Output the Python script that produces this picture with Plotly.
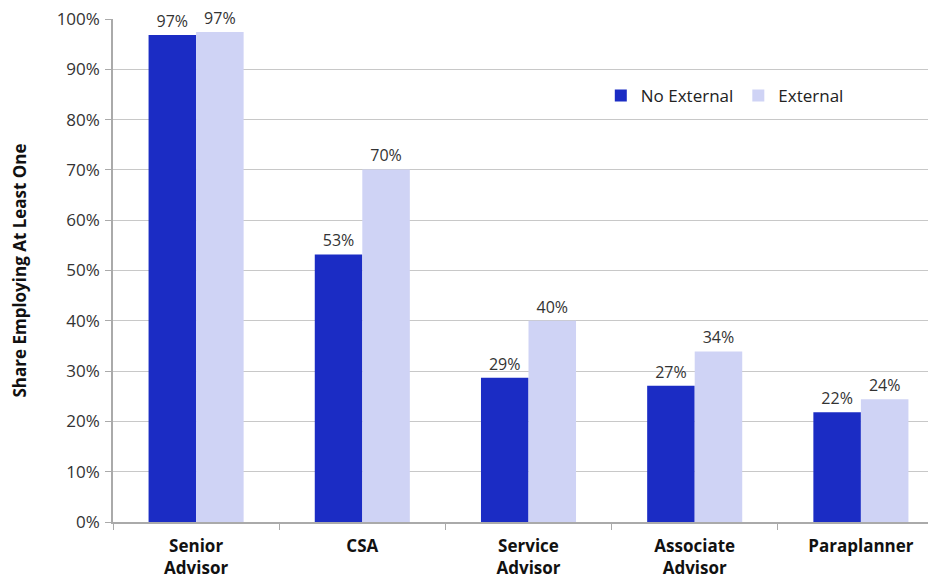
import plotly.graph_objects as go

categories = ["Senior<br>Advisor", "CSA", "Service<br>Advisor", "Associate<br>Advisor", "Paraplanner"]
no_external = [96.8, 53.2, 28.7, 27.1, 21.8]
external = [97.4, 70.1, 40.0, 33.9, 24.4]
series_names = ["No External", "External"]
tick_vals = [0, 10, 20, 30, 40, 50, 60, 70, 80, 90, 100]
tick_text = [f"{v}%" for v in tick_vals]

FONT = "Open Sans"

fig = go.Figure()
fig.add_trace(go.Bar(
    name=series_names[0], x=categories, y=no_external,
    marker=dict(color="#1b2cc4", line=dict(width=0)),
    text=no_external, texttemplate="%{y:.0f}%", textposition="outside",
    textfont=dict(family=FONT, size=16, color="#333333"), cliponaxis=False,
))
fig.add_trace(go.Bar(
    name=series_names[1], x=categories, y=external,
    marker=dict(color="#cfd3f5", line=dict(width=0)),
    text=external, texttemplate="%{y:.0f}%", textposition="outside",
    textfont=dict(family=FONT, size=16, color="#333333"), cliponaxis=False,
))

fig.update_layout(
    width=936, height=578,
    margin=dict(l=105, r=0, t=11, b=64, autoexpand=False),
    paper_bgcolor="white", plot_bgcolor="white",
    barmode="group", bargap=0.428, bargroupgap=0,
    font=dict(family=FONT, color="#333333"),
    showlegend=True,
    legend=dict(x=0.587, y=0.847, xanchor="left", yanchor="middle",
                orientation="h", font=dict(family=FONT, size=17, color="#222222"),
                bgcolor="rgba(0,0,0,0)", itemwidth=30, traceorder="normal"),
)
fig.update_xaxes(
    range=[-0.5, 4.5], tickson="boundaries", ticks="outside", ticklen=6,
    tickcolor="#aaaaaa", showline=True, linecolor="#aaaaaa", linewidth=1.5,
    tickfont=dict(family=FONT, size=17, color="#111111", weight="bold"),
    ticklabelstandoff=8,
    showgrid=False, automargin=False,
)
fig.update_yaxes(
    range=[0, 100], tickvals=tick_vals, ticktext=tick_text,
    ticks="outside", ticklen=6, tickcolor="#aaaaaa",
    showline=True, linecolor="#aaaaaa", linewidth=1.5,
    showgrid=True, gridcolor="#c8c8c8", gridwidth=1,
    tickfont=dict(family=FONT, size=17, color="#333333"),
    ticklabelstandoff=2, ticklabeloverflow="allow",
    title=dict(text="<b>Share Employing At Least One</b>",
               font=dict(family=FONT, size=17, color="#111111"), standoff=38),
    zeroline=False, automargin=False,
)

fig.write_html("out.html")
